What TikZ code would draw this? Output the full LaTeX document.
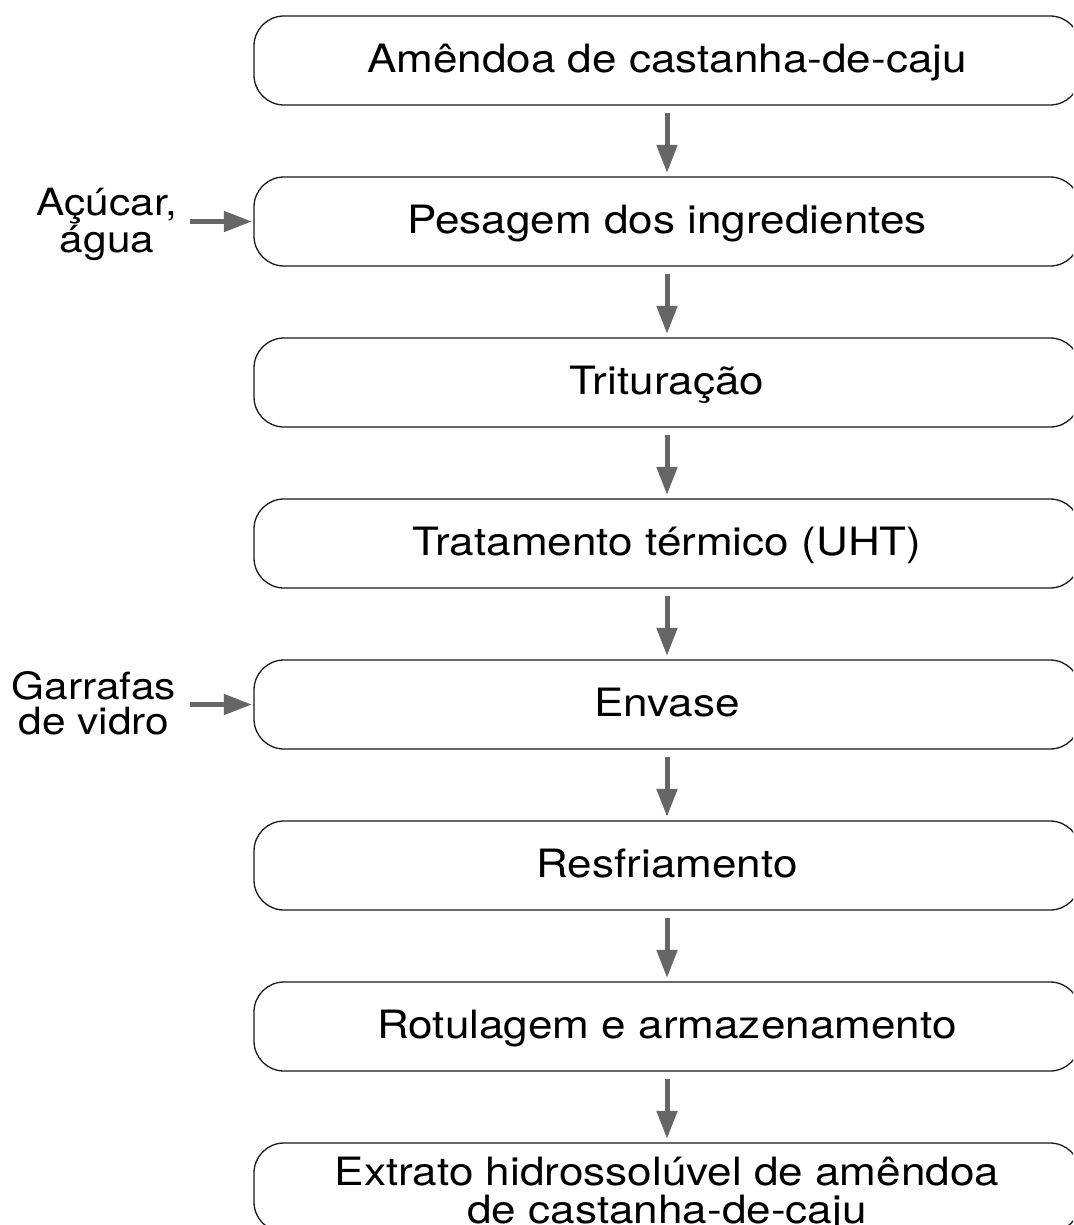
\documentclass[tikz,border=0pt]{standalone}
\usepackage{fontspec}
\setmainfont{TeX Gyre Heros}[FakeStretch=1.13]
\usetikzlibrary{arrows.meta}
\definecolor{arrgray}{HTML}{666666}
\definecolor{boxline}{HTML}{1A1A1A}
\tikzset{
  stepbox/.style={draw=boxline, line width=1.3pt, rounded corners=30pt,
    minimum width=826pt, minimum height=89pt, inner sep=0pt,
    text height=24.5pt, text depth=0pt,
    font=\fontsize{39}{38}\selectfont, align=center},
  flowarr/.style={draw=arrgray, line width=5pt,
    -{Triangle[width=20pt,length=28pt,fill=arrgray]}},
  sidelabel/.style={inner sep=0pt, align=center,
    font=\fontsize{37.5}{35}\selectfont}
}
\begin{document}
\begin{tikzpicture}[x=1pt,y=-1pt]
\useasboundingbox (0,0) rectangle (1073,1225);
\clip (0,0) rectangle (1073,1225);
\fill[white] (0,0) rectangle (1073,1225);

\node[stepbox] (b1) at (667,60.5) {Amêndoa de castanha-de-caju};
\node[stepbox] (b2) at (667,221.5) {Pesagem dos ingredientes};
\node[stepbox] (b3) at (667,382.5) {Trituração};
\node[stepbox] (b4) at (667,543.5) {Tratamento térmico (UHT)};
\node[stepbox] (b5) at (667,704.5) {Envase};
\node[stepbox] (b6) at (667,865.5) {Resfriamento};
\node[stepbox] (b7) at (667,1026.5) {Rotulagem e armazenamento};
\node[stepbox] (b8) at (667,1187.5) {};
\node[inner sep=0pt, align=center, font=\fontsize{39}{38}\selectfont, anchor=base] (t8) at (667,1223)
  {Extrato hidrossolúvel de amêndoa\\de castanha-de-caju};

\foreach \a/\b in {b1/b2,b2/b3,b3/b4,b4/b5,b5/b6,b6/b7,b7/b8}{
  \draw[flowarr] ([yshift=-7pt]\a.south) -- ([yshift=3.5pt]\b.north);
}

\node[sidelabel] (l1) at (107,224) {Açúcar,\\água};
\node[sidelabel] (l2) at (94,703) {Garrafas\\de vidro};
\coordinate (s1) at (190,221.5);
\coordinate (s2) at (190,704.5);
\draw[flowarr, shorten >=1.5pt] (s1) -- (b2.west);
\draw[flowarr, shorten >=1.5pt] (s2) -- (b5.west);
\end{tikzpicture}
\end{document}
